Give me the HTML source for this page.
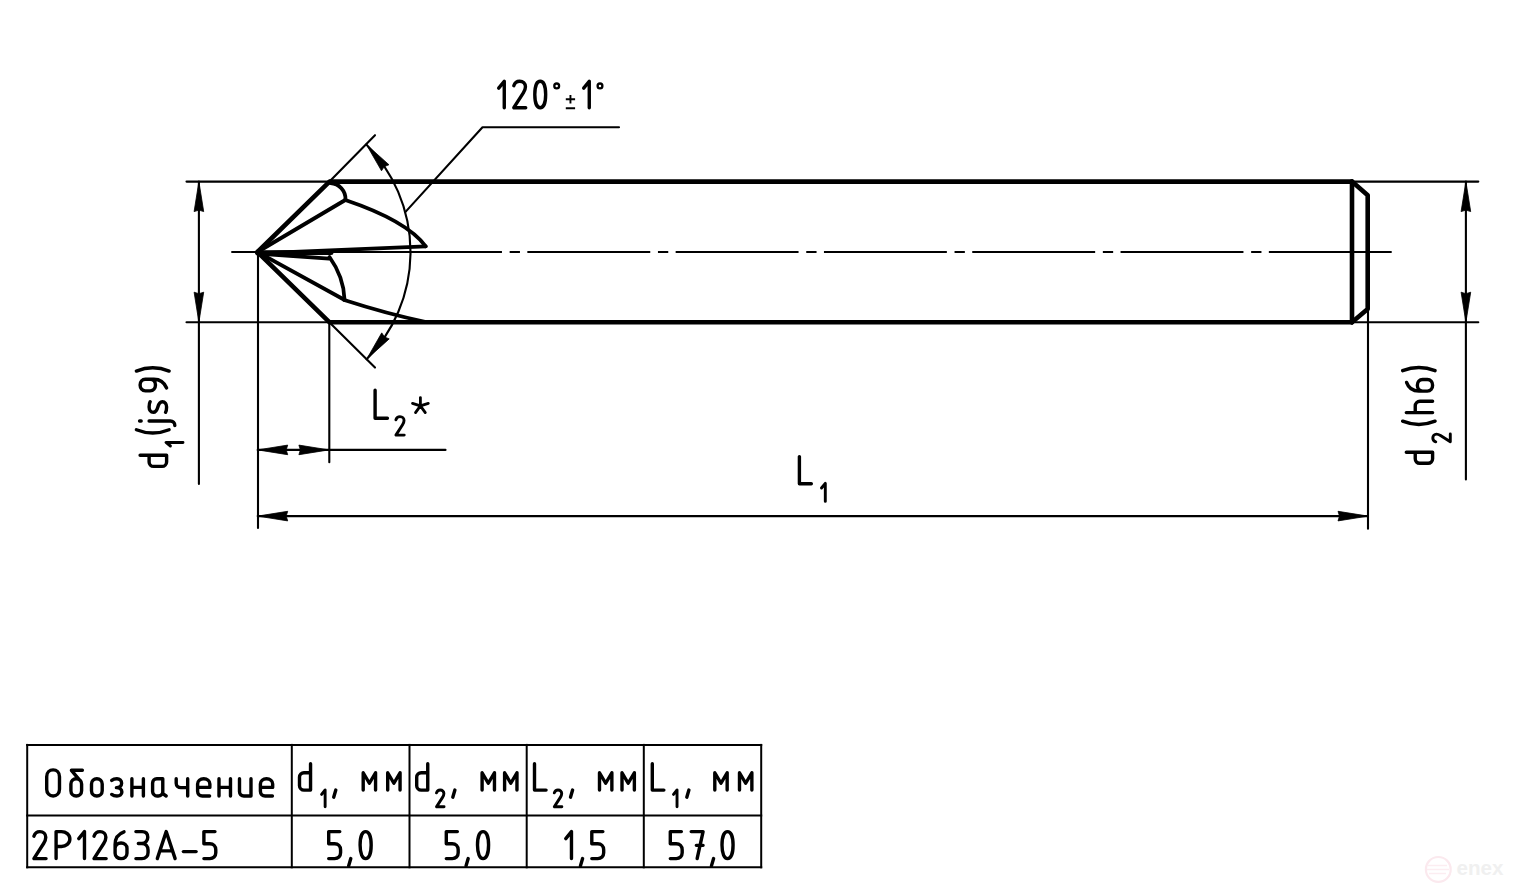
<!DOCTYPE html>
<html><head><meta charset="utf-8"><style>
html,body{margin:0;padding:0;background:#fff;width:1515px;height:893px;overflow:hidden}
svg{display:block}
</style></head><body>
<svg width="1515" height="893" viewBox="0 0 1515 893">
<rect width="1515" height="893" fill="#fff"/>
<path d="M186.5,181.6 H1478.3" fill="none" stroke="#000" stroke-width="2.1" stroke-linecap="round" stroke-linejoin="round"/><path d="M186.5,322.2 H1478.3" fill="none" stroke="#000" stroke-width="2.1" stroke-linecap="round" stroke-linejoin="round"/><path d="M198.9,181.6 V484" fill="none" stroke="#000" stroke-width="2.1" stroke-linecap="round" stroke-linejoin="round"/><path d="M198.90,181.60 L203.70,211.60 L198.90,210.10 L194.10,211.60 Z" fill="#000" stroke="#000" stroke-width="0.8" stroke-linejoin="round"/><path d="M198.90,322.20 L194.10,292.20 L198.90,293.70 L203.70,292.20 Z" fill="#000" stroke="#000" stroke-width="0.8" stroke-linejoin="round"/><path d="M1465.9,181.6 V479.4" fill="none" stroke="#000" stroke-width="2.1" stroke-linecap="round" stroke-linejoin="round"/><path d="M1465.90,181.60 L1470.70,211.60 L1465.90,210.10 L1461.10,211.60 Z" fill="#000" stroke="#000" stroke-width="0.8" stroke-linejoin="round"/><path d="M1465.90,322.20 L1461.10,292.20 L1465.90,293.70 L1470.70,292.20 Z" fill="#000" stroke="#000" stroke-width="0.8" stroke-linejoin="round"/><path d="M231.30,252.0 H501.95 M509.65,252.0 H519.95 M527.35,252.0 H650.25 M657.95,252.0 H668.25 M675.65,252.0 H798.55 M806.25,252.0 H816.55 M823.95,252.0 H946.85 M954.55,252.0 H964.85 M972.25,252.0 H1095.15 M1102.85,252.0 H1113.15 M1120.55,252.0 H1243.45 M1251.15,252.0 H1261.45 M1268.85,252.0 H1391.7" fill="none" stroke="#000" stroke-width="1.9"/><path d="M258,252.0 V528" fill="none" stroke="#000" stroke-width="2.1" stroke-linecap="round" stroke-linejoin="round"/><path d="M329.3,322.2 V462.3" fill="none" stroke="#000" stroke-width="2.1" stroke-linecap="round" stroke-linejoin="round"/><path d="M1368,309 V528.8" fill="none" stroke="#000" stroke-width="2.1" stroke-linecap="round" stroke-linejoin="round"/><path d="M257.7,449.9 H445.5" fill="none" stroke="#000" stroke-width="2.1" stroke-linecap="round" stroke-linejoin="round"/><path d="M257.70,449.90 L287.70,445.10 L286.20,449.90 L287.70,454.70 Z" fill="#000" stroke="#000" stroke-width="0.8" stroke-linejoin="round"/><path d="M328.90,449.90 L298.90,454.70 L300.40,449.90 L298.90,445.10 Z" fill="#000" stroke="#000" stroke-width="0.8" stroke-linejoin="round"/><path d="M257.7,516.1 H1368" fill="none" stroke="#000" stroke-width="2.1" stroke-linecap="round" stroke-linejoin="round"/><path d="M257.70,516.10 L287.70,511.30 L286.20,516.10 L287.70,520.90 Z" fill="#000" stroke="#000" stroke-width="0.8" stroke-linejoin="round"/><path d="M1368.00,516.10 L1338.00,520.90 L1339.50,516.10 L1338.00,511.30 Z" fill="#000" stroke="#000" stroke-width="0.8" stroke-linejoin="round"/><path d="M329.5,181.6 L375,135.2" fill="none" stroke="#000" stroke-width="2.1" stroke-linecap="round" stroke-linejoin="round"/><path d="M329.3,322.2 L375,367.6" fill="none" stroke="#000" stroke-width="2.1" stroke-linecap="round" stroke-linejoin="round"/><path d="M366.33,144.46 A153,153 0 0 1 366.64,359.23" fill="none" stroke="#000" stroke-width="2.1" stroke-linecap="round" stroke-linejoin="round"/><path d="M366.33,144.46 L388.96,164.74 L384.28,166.60 L381.50,170.79 Z" fill="#000" stroke="#000" stroke-width="0.8" stroke-linejoin="round"/><path d="M366.64,359.23 L381.73,332.86 L384.52,337.04 L389.20,338.89 Z" fill="#000" stroke="#000" stroke-width="0.8" stroke-linejoin="round"/><path d="M405.5,211.9 L482.5,127.3 H619" fill="none" stroke="#000" stroke-width="2.1" stroke-linecap="round" stroke-linejoin="round"/><path d="M329.5,181.6 H1353" fill="none" stroke="#000" stroke-width="4.6" stroke-linecap="butt" stroke-linejoin="round"/><path d="M329.3,322.2 H1353" fill="none" stroke="#000" stroke-width="4.6" stroke-linecap="butt" stroke-linejoin="round"/><path d="M257.5,252 L329.5,181.6" fill="none" stroke="#000" stroke-width="4.6" stroke-linecap="round" stroke-linejoin="round"/><path d="M257.5,252 L329.3,322.2" fill="none" stroke="#000" stroke-width="4.6" stroke-linecap="round" stroke-linejoin="round"/><path d="M1352.0,181.6 V322.2" fill="none" stroke="#000" stroke-width="4.6" stroke-linecap="round" stroke-linejoin="round"/><path d="M1352.0,181.6 L1367.7,195.3 V309 L1352.0,322.2" fill="none" stroke="#000" stroke-width="4.6" stroke-linecap="round" stroke-linejoin="round"/><path d="M330.5,183 A16,16 0 0 1 345.5,199.5" fill="none" stroke="#000" stroke-width="3.8" stroke-linecap="round" stroke-linejoin="round"/><path d="M257.5,252 L345.3,200" fill="none" stroke="#000" stroke-width="3.8" stroke-linecap="round" stroke-linejoin="round"/><path d="M345.3,200 C375,210 410,225 425.7,246.3" fill="none" stroke="#000" stroke-width="3.8" stroke-linecap="round" stroke-linejoin="round"/><path d="M257.5,253.4 L425.7,246.4" fill="none" stroke="#000" stroke-width="3.8" stroke-linecap="round" stroke-linejoin="round"/><path d="M257.5,252.8 L331,252.4" fill="none" stroke="#000" stroke-width="5.0" stroke-linecap="round" stroke-linejoin="round"/><path d="M257.5,253.5 L329,258.6" fill="none" stroke="#000" stroke-width="3.8" stroke-linecap="round" stroke-linejoin="round"/><path d="M329.5,257 Q343.8,277 344.5,299.5" fill="none" stroke="#000" stroke-width="3.8" stroke-linecap="round" stroke-linejoin="round"/><path d="M257.5,252 L344.7,300" fill="none" stroke="#000" stroke-width="3.8" stroke-linecap="round" stroke-linejoin="round"/><path d="M344.2,300 C372,309 402,317 426,322" fill="none" stroke="#000" stroke-width="3.8" stroke-linecap="round" stroke-linejoin="round"/><path d="M27.2,744.9 H761.2" fill="none" stroke="#000" stroke-width="2.0" stroke-linecap="square" stroke-linejoin="round"/><path d="M27.2,815.5 H761.2" fill="none" stroke="#000" stroke-width="2.0" stroke-linecap="square" stroke-linejoin="round"/><path d="M27.2,867.3 H761.2" fill="none" stroke="#000" stroke-width="2.0" stroke-linecap="square" stroke-linejoin="round"/><path d="M27.2,744.9 V867.3" fill="none" stroke="#000" stroke-width="2.0" stroke-linecap="square" stroke-linejoin="round"/><path d="M291.8,744.9 V867.3" fill="none" stroke="#000" stroke-width="2.0" stroke-linecap="square" stroke-linejoin="round"/><path d="M409.5,744.9 V867.3" fill="none" stroke="#000" stroke-width="2.0" stroke-linecap="square" stroke-linejoin="round"/><path d="M526.7,744.9 V867.3" fill="none" stroke="#000" stroke-width="2.0" stroke-linecap="square" stroke-linejoin="round"/><path d="M643.8,744.9 V867.3" fill="none" stroke="#000" stroke-width="2.0" stroke-linecap="square" stroke-linejoin="round"/><path d="M761.2,744.9 V867.3" fill="none" stroke="#000" stroke-width="2.0" stroke-linecap="square" stroke-linejoin="round"/><g fill="none" stroke="#000" stroke-linecap="round" stroke-linejoin="round"><path transform="translate(498.70,107.70) scale(2.65)" d="M0,-7.4 L2.1,-10 V0" stroke-width="1.283"/><path transform="translate(513.80,107.70) scale(2.65)" d="M0,-8.3 C0.35,-9.4 1.2,-10 2.2,-10 C3.5,-10 4.4,-9.1 4.4,-7.9 C4.4,-7.1 4.1,-6.4 3.6,-5.6 L0,0 H4.5" stroke-width="1.283"/><path transform="translate(534.80,107.70) scale(2.65)" d="M0,-5 C0,-8.2 0.85,-10 2.05,-10 C3.25,-10 4.1,-8.2 4.1,-5 C4.1,-1.8 3.25,0 2.05,0 C0.85,0 0,-1.8 0,-5 Z" stroke-width="1.283"/><path transform="translate(583.70,107.70) scale(2.65)" d="M0,-7.4 L2.1,-10 V0" stroke-width="1.283"/><circle cx="556.7" cy="85.9" r="2.4" stroke-width="2.3"/><circle cx="600" cy="85.9" r="2.4" stroke-width="2.3"/><path d="M565.8,99.2 H575.1 M570.45,95.0 V103.6 M565.8,108.2 H575.1" stroke-width="1.9" stroke-linecap="butt"/><path transform="translate(375.10,418.20) scale(2.8)" d="M0,-10 V0 H4.4" stroke-width="1.214"/><path transform="translate(395.90,435.10) scale(1.85)" d="M0,-8.3 C0.35,-9.4 1.2,-10 2.2,-10 C3.5,-10 4.4,-9.1 4.4,-7.9 C4.4,-7.1 4.1,-6.4 3.6,-5.6 L0,0 H4.5" stroke-width="1.568"/><path d="M420.40,405.90 L420.40,397.60 M420.40,405.90 L428.29,403.34 M420.40,405.90 L425.28,412.61 M420.40,405.90 L415.52,412.61 M420.40,405.90 L412.51,403.34 " stroke-width="2.8"/><path transform="translate(799.40,483.70) scale(2.71)" d="M0,-10 V0 H4.4" stroke-width="1.255"/><path transform="translate(821.50,501.40) scale(1.81)" d="M0,-7.4 L2.1,-10 V0" stroke-width="1.602"/><g transform="translate(166.6,466.4) rotate(-90)"><path transform="translate(0.00,0.00) scale(2.65)" d="M4.2,-10 V0 H1.7 C0.8,0 0,-0.8 0,-1.7 V-4.9 C0,-5.9 0.8,-6.6 1.7,-6.6 H4.2" stroke-width="1.283"/><path transform="translate(20.40,16.40) scale(1.7)" d="M0,-7.4 L2.1,-10 V0" stroke-width="1.706"/><path transform="translate(33.50,0.00) scale(2.65)" d="M1.2,-11.4 A16.5,16.5 0 0 0 1.2,0.95" stroke-width="1.283"/><path transform="translate(39.90,0.00) scale(2.65)" d="M2.1,-6.6 V1.4 C2.1,2.4 1.4,3.1 0.4,3.1 M2.1,-10.2 V-9.6" stroke-width="1.283"/><path transform="translate(54.10,0.00) scale(2.65)" d="M4,-6.2 C3.5,-6.5 2.8,-6.6 2,-6.6 C0.9,-6.6 0,-6 0,-5 C0,-3.9 0.9,-3.6 2,-3.3 C3.1,-3 4,-2.6 4,-1.6 C4,-0.6 3.1,0 2,0 C1.2,0 0.5,-0.1 0,-0.4" stroke-width="1.283"/><path transform="translate(75.50,0.00) scale(2.65)" d="M1.1,0 C3,-0.8 4.4,-2.4 4.4,-4.8 V-8 C4.4,-9.2 3.45,-10 2.2,-10 C0.95,-10 0,-9.2 0,-8 V-6.2 C0,-5 0.95,-4.2 2.2,-4.2 C3.45,-4.2 4.4,-5 4.4,-6.2" stroke-width="1.283"/><path transform="translate(95.30,0.00) scale(2.65)" d="M0,-11.4 A16.5,16.5 0 0 1 0,0.95" stroke-width="1.283"/></g><g transform="translate(1432.6,463.3) rotate(-90)"><path transform="translate(0.00,0.00) scale(2.63)" d="M4.2,-10 V0 H1.7 C0.8,0 0,-0.8 0,-1.7 V-4.9 C0,-5.9 0.8,-6.6 1.7,-6.6 H4.2" stroke-width="1.293"/><path transform="translate(21.50,17.70) scale(1.75)" d="M0,-8.3 C0.35,-9.4 1.2,-10 2.2,-10 C3.5,-10 4.4,-9.1 4.4,-7.9 C4.4,-7.1 4.1,-6.4 3.6,-5.6 L0,0 H4.5" stroke-width="1.657"/><path transform="translate(39.00,0.00) scale(2.63)" d="M1.2,-11.4 A16.5,16.5 0 0 0 1.2,0.95" stroke-width="1.293"/><path transform="translate(50.70,0.00) scale(2.63)" d="M0,-10 V0 M0,-6.6 H2.5 C3.5,-6.6 4.3,-5.8 4.3,-4.8 V0" stroke-width="1.293"/><path transform="translate(72.20,0.00) scale(2.63)" d="M3.3,-9.9 C1.3,-9.2 0,-7.6 0,-5.2 V-2 C0,-0.8 0.95,0 2.2,0 C3.45,0 4.4,-0.8 4.4,-2 V-3.8 C4.4,-5 3.45,-5.8 2.2,-5.8 C0.95,-5.8 0,-5 0,-3.8" stroke-width="1.293"/><path transform="translate(92.60,0.00) scale(2.63)" d="M0,-11.4 A16.5,16.5 0 0 1 0,0.95" stroke-width="1.293"/></g><path transform="translate(46.70,796.00) scale(2.61)" d="M0,-7.4 C0,-9 1.1,-10 2.45,-10 C3.8,-10 4.9,-9 4.9,-7.4 V-2.6 C4.9,-1 3.8,0 2.45,0 C1.1,0 0,-1 0,-2.6 Z" stroke-width="1.303"/><path transform="translate(70.90,796.00) scale(2.61)" d="M4.4,-9.85 H0.2 L3.1,-6.4 M2.05,-6.6 C3.2,-6.6 4.1,-5.8 4.1,-4.6 V-2 C4.1,-0.8 3.2,0 2.05,0 C0.9,0 0,-0.8 0,-2 V-4.6 C0,-5.8 0.9,-6.6 2.05,-6.6 Z" stroke-width="1.303"/><path transform="translate(91.50,796.00) scale(2.61)" d="M0,-4.6 C0,-5.8 0.9,-6.6 2.05,-6.6 C3.2,-6.6 4.1,-5.8 4.1,-4.6 V-2 C4.1,-0.8 3.2,0 2.05,0 C0.9,0 0,-0.8 0,-2 Z" stroke-width="1.303"/><path transform="translate(111.70,796.00) scale(2.61)" d="M0,-6 C0.5,-6.4 1.2,-6.6 2,-6.6 C3.1,-6.6 3.8,-5.9 3.8,-4.9 C3.8,-3.9 3,-3.2 1.8,-3.2 M1.8,-3.2 C3.1,-3.2 3.9,-2.5 3.9,-1.55 C3.9,-0.6 3.1,0 2,0 C1.2,0 0.5,-0.2 0,-0.6" stroke-width="1.303"/><path transform="translate(131.90,796.00) scale(2.61)" d="M0,-6.6 V0 M4.4,-6.6 V0 M0,-3.3 H4.4" stroke-width="1.303"/><path transform="translate(152.60,796.00) scale(2.61)" d="M3.9,-6.6 H1.6 C0.7,-6.6 0,-5.9 0,-5 V-1.7 C0,-0.8 0.8,0 1.7,0 H2.2 C3.1,0 3.9,-0.7 3.9,-1.6 M3.9,-6.6 V-0.9 L5.2,0" stroke-width="1.303"/><path transform="translate(176.20,796.00) scale(2.61)" d="M0,-6.6 V-4.9 C0,-3.9 0.8,-3.2 1.8,-3.2 H4.4 M4.4,-6.6 V0" stroke-width="1.303"/><path transform="translate(197.60,796.00) scale(2.61)" d="M0,-3.3 H4.7 V-4.6 C4.7,-5.8 3.7,-6.6 2.35,-6.6 C1,-6.6 0,-5.8 0,-4.6 V-1.8 C0,-0.7 0.8,0 1.8,0 H4.6" stroke-width="1.303"/><path transform="translate(219.00,796.00) scale(2.61)" d="M0,-6.6 V0 M4.4,-6.6 V0 M0,-3.3 H4.4" stroke-width="1.303"/><path transform="translate(239.50,796.00) scale(2.61)" d="M0,-6.6 V-1.7 C0,-0.7 0.7,0 1.7,0 H4.4 M4.4,-6.6 V0" stroke-width="1.303"/><path transform="translate(260.40,796.00) scale(2.61)" d="M0,-3.3 H4.7 V-4.6 C4.7,-5.8 3.7,-6.6 2.35,-6.6 C1,-6.6 0,-5.8 0,-4.6 V-1.8 C0,-0.7 0.8,0 1.8,0 H4.6" stroke-width="1.303"/><path transform="translate(33.90,858.60) scale(2.7)" d="M0,-8.3 C0.35,-9.4 1.2,-10 2.2,-10 C3.5,-10 4.4,-9.1 4.4,-7.9 C4.4,-7.1 4.1,-6.4 3.6,-5.6 L0,0 H4.5" stroke-width="1.259"/><path transform="translate(56.10,858.60) scale(2.7)" d="M0,0 V-10 H2 C3.6,-10 5.1,-8.9 5.1,-7.25 C5.1,-5.6 3.6,-4.5 2,-4.5 H0" stroke-width="1.259"/><path transform="translate(78.80,858.60) scale(2.7)" d="M0,-7.4 L2.1,-10 V0" stroke-width="1.259"/><path transform="translate(94.00,858.60) scale(2.7)" d="M0,-8.3 C0.35,-9.4 1.2,-10 2.2,-10 C3.5,-10 4.4,-9.1 4.4,-7.9 C4.4,-7.1 4.1,-6.4 3.6,-5.6 L0,0 H4.5" stroke-width="1.259"/><path transform="translate(115.10,858.60) scale(2.7)" d="M3.3,-9.9 C1.3,-9.2 0,-7.6 0,-5.2 V-2 C0,-0.8 0.95,0 2.2,0 C3.45,0 4.4,-0.8 4.4,-2 V-3.8 C4.4,-5 3.45,-5.8 2.2,-5.8 C0.95,-5.8 0,-5 0,-3.8" stroke-width="1.259"/><path transform="translate(135.90,858.60) scale(2.7)" d="M0,-10 H2.3 C3.6,-10 4.4,-9.2 4.4,-7.9 C4.4,-6.6 3.5,-5.6 2.2,-5.6 H0.9 M2.2,-5.6 C3.6,-5.6 4.5,-4.6 4.5,-3.2 V-2.3 C4.5,-0.9 3.6,0 2.2,0 H0" stroke-width="1.259"/><path transform="translate(157.30,858.60) scale(2.7)" d="M0,0 L3.3,-10 L6.6,0 M0.95,-2.85 H5.65" stroke-width="1.259"/><path transform="translate(183.40,858.60) scale(2.7)" d="M0,-2.6 H4.7" stroke-width="1.259"/><path transform="translate(203.90,858.60) scale(2.7)" d="M4.1,-10 H0 V-5.5 H2.2 C3.5,-5.5 4.4,-4.6 4.4,-3.3 V-2.2 C4.4,-0.9 3.5,0 2.2,0 H0" stroke-width="1.259"/><path transform="translate(328.70,858.60) scale(2.7)" d="M4.1,-10 H0 V-5.5 H2.2 C3.5,-5.5 4.4,-4.6 4.4,-3.3 V-2.2 C4.4,-0.9 3.5,0 2.2,0 H0" stroke-width="1.259"/><path transform="translate(360.10,858.60) scale(2.7)" d="M0,-5 C0,-8.2 0.85,-10 2.05,-10 C3.25,-10 4.1,-8.2 4.1,-5 C4.1,-1.8 3.25,0 2.05,0 C0.85,0 0,-1.8 0,-5 Z" stroke-width="1.259"/><path transform="translate(348.64,858.60) scale(2.7)" d="M0.8,0 L0,2.7" stroke-width="1.259"/><path transform="translate(446.30,858.60) scale(2.7)" d="M4.1,-10 H0 V-5.5 H2.2 C3.5,-5.5 4.4,-4.6 4.4,-3.3 V-2.2 C4.4,-0.9 3.5,0 2.2,0 H0" stroke-width="1.259"/><path transform="translate(477.50,858.60) scale(2.7)" d="M0,-5 C0,-8.2 0.85,-10 2.05,-10 C3.25,-10 4.1,-8.2 4.1,-5 C4.1,-1.8 3.25,0 2.05,0 C0.85,0 0,-1.8 0,-5 Z" stroke-width="1.259"/><path transform="translate(466.04,858.60) scale(2.7)" d="M0.8,0 L0,2.7" stroke-width="1.259"/><path transform="translate(565.80,858.60) scale(2.7)" d="M0,-7.4 L2.1,-10 V0" stroke-width="1.259"/><path transform="translate(591.80,858.60) scale(2.7)" d="M4.1,-10 H0 V-5.5 H2.2 C3.5,-5.5 4.4,-4.6 4.4,-3.3 V-2.2 C4.4,-0.9 3.5,0 2.2,0 H0" stroke-width="1.259"/><path transform="translate(580.44,858.60) scale(2.7)" d="M0.8,0 L0,2.7" stroke-width="1.259"/><path transform="translate(670.30,858.60) scale(2.7)" d="M4.1,-10 H0 V-5.5 H2.2 C3.5,-5.5 4.4,-4.6 4.4,-3.3 V-2.2 C4.4,-0.9 3.5,0 2.2,0 H0" stroke-width="1.259"/><path transform="translate(691.20,858.60) scale(2.7)" d="M0,-10 H4.4 L2.2,0 M1.9,-4.9 H4.4" stroke-width="1.259"/><path transform="translate(722.00,858.60) scale(2.7)" d="M0,-5 C0,-8.2 0.85,-10 2.05,-10 C3.25,-10 4.1,-8.2 4.1,-5 C4.1,-1.8 3.25,0 2.05,0 C0.85,0 0,-1.8 0,-5 Z" stroke-width="1.259"/><path transform="translate(711.44,858.60) scale(2.7)" d="M0.8,0 L0,2.7" stroke-width="1.259"/><path transform="translate(299.50,790.10) scale(2.63)" d="M4.2,-10 V0 H1.7 C0.8,0 0,-0.8 0,-1.7 V-4.9 C0,-5.9 0.8,-6.6 1.7,-6.6 H4.2" stroke-width="1.293"/><path transform="translate(363.20,790.10) scale(2.63)" d="M0,0 V-6.6 L2.35,-2.6 L4.7,-6.6 V0" stroke-width="1.293"/><path transform="translate(387.70,790.10) scale(2.63)" d="M0,0 V-6.6 L2.35,-2.6 L4.7,-6.6 V0" stroke-width="1.293"/><path transform="translate(321.60,806.80) scale(1.68)" d="M0,-7.4 L2.1,-10 V0" stroke-width="1.726"/><path transform="translate(333.70,790.10) scale(2.63)" d="M0.8,0 L0,2.7" stroke-width="1.293"/><path transform="translate(416.70,790.10) scale(2.63)" d="M4.2,-10 V0 H1.7 C0.8,0 0,-0.8 0,-1.7 V-4.9 C0,-5.9 0.8,-6.6 1.7,-6.6 H4.2" stroke-width="1.293"/><path transform="translate(482.10,790.10) scale(2.63)" d="M0,0 V-6.6 L2.35,-2.6 L4.7,-6.6 V0" stroke-width="1.293"/><path transform="translate(504.60,790.10) scale(2.63)" d="M0,0 V-6.6 L2.35,-2.6 L4.7,-6.6 V0" stroke-width="1.293"/><path transform="translate(436.50,806.80) scale(1.68)" d="M0,-8.3 C0.35,-9.4 1.2,-10 2.2,-10 C3.5,-10 4.4,-9.1 4.4,-7.9 C4.4,-7.1 4.1,-6.4 3.6,-5.6 L0,0 H4.5" stroke-width="1.726"/><path transform="translate(452.80,790.10) scale(2.63)" d="M0.8,0 L0,2.7" stroke-width="1.293"/><path transform="translate(534.50,790.10) scale(2.63)" d="M0,-10 V0 H4.4" stroke-width="1.293"/><path transform="translate(599.50,790.10) scale(2.63)" d="M0,0 V-6.6 L2.35,-2.6 L4.7,-6.6 V0" stroke-width="1.293"/><path transform="translate(622.00,790.10) scale(2.63)" d="M0,0 V-6.6 L2.35,-2.6 L4.7,-6.6 V0" stroke-width="1.293"/><path transform="translate(554.30,806.80) scale(1.68)" d="M0,-8.3 C0.35,-9.4 1.2,-10 2.2,-10 C3.5,-10 4.4,-9.1 4.4,-7.9 C4.4,-7.1 4.1,-6.4 3.6,-5.6 L0,0 H4.5" stroke-width="1.726"/><path transform="translate(570.50,790.10) scale(2.63)" d="M0.8,0 L0,2.7" stroke-width="1.293"/><path transform="translate(652.30,790.10) scale(2.63)" d="M0,-10 V0 H4.4" stroke-width="1.293"/><path transform="translate(714.80,790.10) scale(2.63)" d="M0,0 V-6.6 L2.35,-2.6 L4.7,-6.6 V0" stroke-width="1.293"/><path transform="translate(739.50,790.10) scale(2.63)" d="M0,0 V-6.6 L2.35,-2.6 L4.7,-6.6 V0" stroke-width="1.293"/><path transform="translate(673.50,806.80) scale(1.68)" d="M0,-7.4 L2.1,-10 V0" stroke-width="1.726"/><path transform="translate(686.80,790.10) scale(2.63)" d="M0.8,0 L0,2.7" stroke-width="1.293"/></g><g opacity="1">
<circle cx="1438.3" cy="869.4" r="12.4" fill="none" stroke="#fbe9ee" stroke-width="2.2"/>
<path d="M1428,865.5 H1447 M1427,869.5 H1449 M1429,873.5 H1446" stroke="#fcedf1" stroke-width="1.6"/>
<text x="1456.5" y="875.2" font-family="Liberation Sans, sans-serif" font-size="19.5" font-weight="bold" fill="#f0f0f0" textLength="47" lengthAdjust="spacingAndGlyphs">enex</text>
</g>
</svg></body></html>
